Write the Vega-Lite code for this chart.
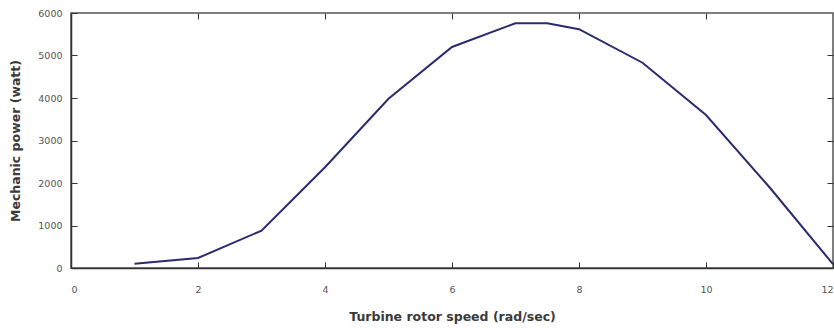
{
  "$schema": "https://vega.github.io/schema/vega-lite/v6.json",
  "width": 762,
  "height": 255,
  "autosize": "none",
  "padding": {"left": 71, "top": 13, "right": 1, "bottom": 60},
  "background": "white",
  "config": {
    "view": {"stroke": "#555", "strokeWidth": 1.5},
    "axis": {
      "grid": false,
      "domainColor": "#333",
      "domainWidth": 1.5,
      "tickColor": "#333",
      "tickSize": -6,
      "labelFont": "DejaVu Sans",
      "labelFontSize": 9.5,
      "labelColor": "#555",
      "titleFont": "DejaVu Sans",
      "titleFontSize": 12.5,
      "titleFontWeight": 600,
      "titleColor": "#3a3a3a"
    }
  },
  "data": {
    "values": [
      {"speed": 1, "power": 100},
      {"speed": 2, "power": 235},
      {"speed": 3, "power": 880},
      {"speed": 4, "power": 2370},
      {"speed": 5, "power": 3980},
      {"speed": 6, "power": 5200},
      {"speed": 7, "power": 5760},
      {"speed": 7.5, "power": 5760},
      {"speed": 8, "power": 5620},
      {"speed": 9, "power": 4830},
      {"speed": 10, "power": 3600},
      {"speed": 11, "power": 1900},
      {"speed": 12, "power": 90}
    ]
  },
  "layer": [
    {
      "mark": {"type": "line", "color": "#2a2a6e", "strokeWidth": 2},
      "encoding": {
        "x": {
          "field": "speed", "type": "quantitative",
          "scale": {"domain": [0, 12], "nice": false},
          "axis": {"orient": "bottom", "values": [0, 2, 4, 6, 8, 10, 12], "format": "d", "title": "Turbine rotor speed (rad/sec)", "labelPadding": 22, "titlePadding": 17}
        },
        "y": {
          "field": "power", "type": "quantitative",
          "scale": {"domain": [0, 6000], "nice": false},
          "axis": {"orient": "left", "values": [0, 1000, 2000, 3000, 4000, 5000, 6000], "format": "d", "title": "Mechanic power (watt)", "labelPadding": 15, "titlePadding": 15}
        }
      }
    },
    {
      "mark": {"type": "line", "opacity": 0},
      "encoding": {
        "x": {
          "field": "speed", "type": "quantitative",
          "axis": {"orient": "top", "values": [2, 4, 6, 8, 10], "labels": false, "title": null, "domain": false}
        },
        "y": {
          "field": "power", "type": "quantitative",
          "axis": {"orient": "right", "values": [1000, 2000, 3000, 4000, 5000], "labels": false, "title": null, "domain": false}
        }
      }
    }
  ],
  "resolve": {"axis": {"x": "independent", "y": "independent"}}
}
